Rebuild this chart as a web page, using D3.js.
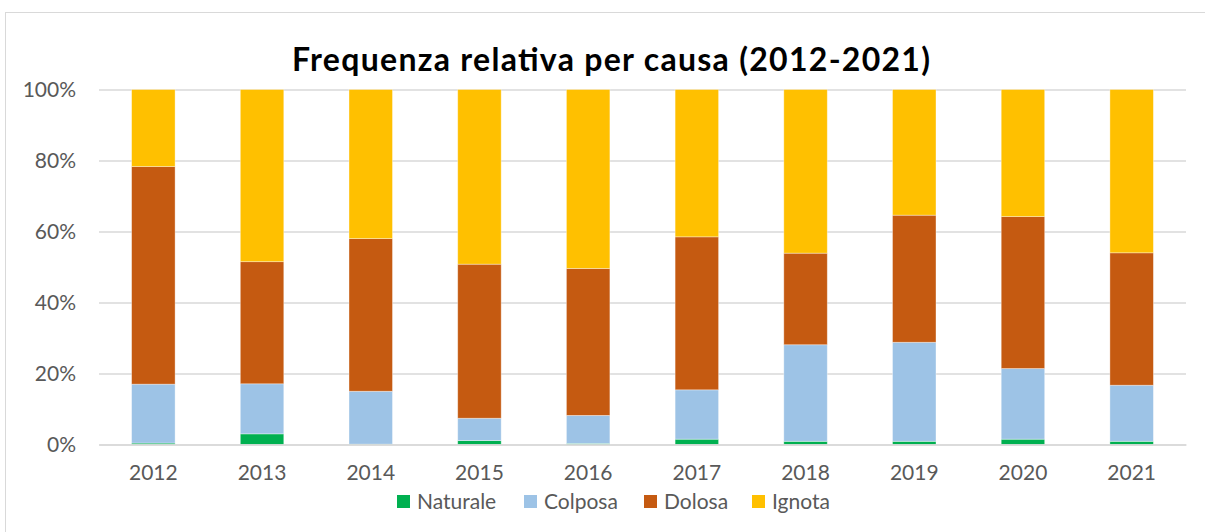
<!DOCTYPE html>
<html>
<head>
<meta charset="utf-8">
<script src="https://cdn.jsdelivr.net/npm/d3@7"></script>
<style>
  html, body { margin: 0; padding: 0; background: #fff; }
  svg { display: block; }
</style>
</head>
<body>
<svg id="chart" width="1205" height="532"></svg>
<script>
const years = ["2012","2013","2014","2015","2016","2017","2018","2019","2020","2021"];
const naturale = [0.4, 3.0, 0.1, 1.1, 0.3, 1.5, 0.9, 0.9, 1.5, 0.9];
const colposa  = [16.6, 14.1, 14.9, 6.3, 7.9, 13.9, 27.2, 27.9, 19.9, 15.8];
const dolosa   = [61.3, 34.4, 43.0, 43.4, 41.4, 43.1, 25.8, 35.8, 42.8, 37.3];
const ignota   = [21.7, 48.5, 42.0, 49.2, 50.4, 41.5, 46.1, 35.4, 35.8, 46.0];
const seriesNames = ["Naturale", "Colposa", "Dolosa", "Ignota"];
const seriesColors = ["#00B050", "#9DC3E6", "#C55A11", "#FFC000"];
const yTicks = [0, 0.2, 0.4, 0.6, 0.8, 1.0];
const title = "Frequenza relativa per causa (2012-2021)";

const font = "Lato, 'Open Sans', sans-serif";
const svg = d3.select("#chart");

// chart frame
svg.append("rect").attr("x", 5.5).attr("y", 12.5).attr("width", 1220).attr("height", 540)
  .attr("fill", "none").attr("stroke", "#D9D9D9").attr("stroke-width", 1);

const plotLeft = 99, plotRight = 1186, plotTop = 89.5, plotBottom = 444.5;

const x = d3.scaleBand().domain(years).range([plotLeft, plotRight]).paddingInner(0.6).paddingOuter(0.3);
const y = d3.scaleLinear().domain([0, 1]).range([plotBottom, plotTop]);

const table = years.map((yr, i) => ({
  year: yr,
  Naturale: naturale[i], Colposa: colposa[i], Dolosa: dolosa[i], Ignota: ignota[i]
}));
const stacked = d3.stack().keys(seriesNames).offset(d3.stackOffsetExpand)(table);

// gridlines via axis
const yAxis = d3.axisLeft(y).tickValues(yTicks).tickSize(-(plotRight - plotLeft)).tickFormat(d3.format(".0%"));
const gy = svg.append("g").attr("transform", `translate(${plotLeft},0)`).call(yAxis);
gy.select(".domain").remove();
gy.selectAll(".tick line").attr("stroke", "#D9D9D9").attr("stroke-width", 1.3);
gy.selectAll(".tick text").attr("x", -23).attr("fill", "#595959")
  .style("font-family", font).style("font-size", "21px");

// bars
const colorOf = d3.scaleOrdinal().domain(seriesNames).range(seriesColors);
svg.append("g").selectAll("g").data(stacked).join("g")
  .attr("fill", d => colorOf(d.key))
  .selectAll("rect").data(d => d).join("rect")
  .attr("x", d => x(d.data.year))
  .attr("width", x.bandwidth())
  .attr("y", d => y(d[1]))
  .attr("height", d => y(d[0]) - y(d[1]))
  .attr("stroke", "rgba(255,255,255,0.45)").attr("stroke-width", 0.8);

// x axis
const xAxis = d3.axisBottom(x).tickSize(0).tickPadding(21);
const gx = svg.append("g").attr("transform", `translate(0,${plotBottom})`).call(xAxis);
gx.select(".domain").attr("stroke", "#D9D9D9").attr("stroke-width", 1.3);
gx.selectAll(".tick text").attr("fill", "#595959")
  .style("font-family", font).style("font-size", "21px");

// title
svg.append("text").attr("x", 611).attr("y", 71).attr("text-anchor", "middle")
  .attr("fill", "#000").style("font-family", font).style("font-weight", "bold")
  .style("font-size", "32px")
  .attr("textLength", 638).attr("lengthAdjust", "spacing")
  .text(title);

// legend
const legendX = [397, 524, 644, 752];
const lg = svg.append("g").selectAll("g").data(seriesNames).join("g")
  .attr("transform", (d, i) => `translate(${legendX[i]},495)`);
lg.append("rect").attr("width", 13).attr("height", 13).attr("fill", d => colorOf(d));
lg.append("text").attr("x", 20).attr("y", 14).attr("fill", "#595959")
  .style("font-family", font).style("font-size", "21px").text(d => d);
</script>
</body>
</html>
